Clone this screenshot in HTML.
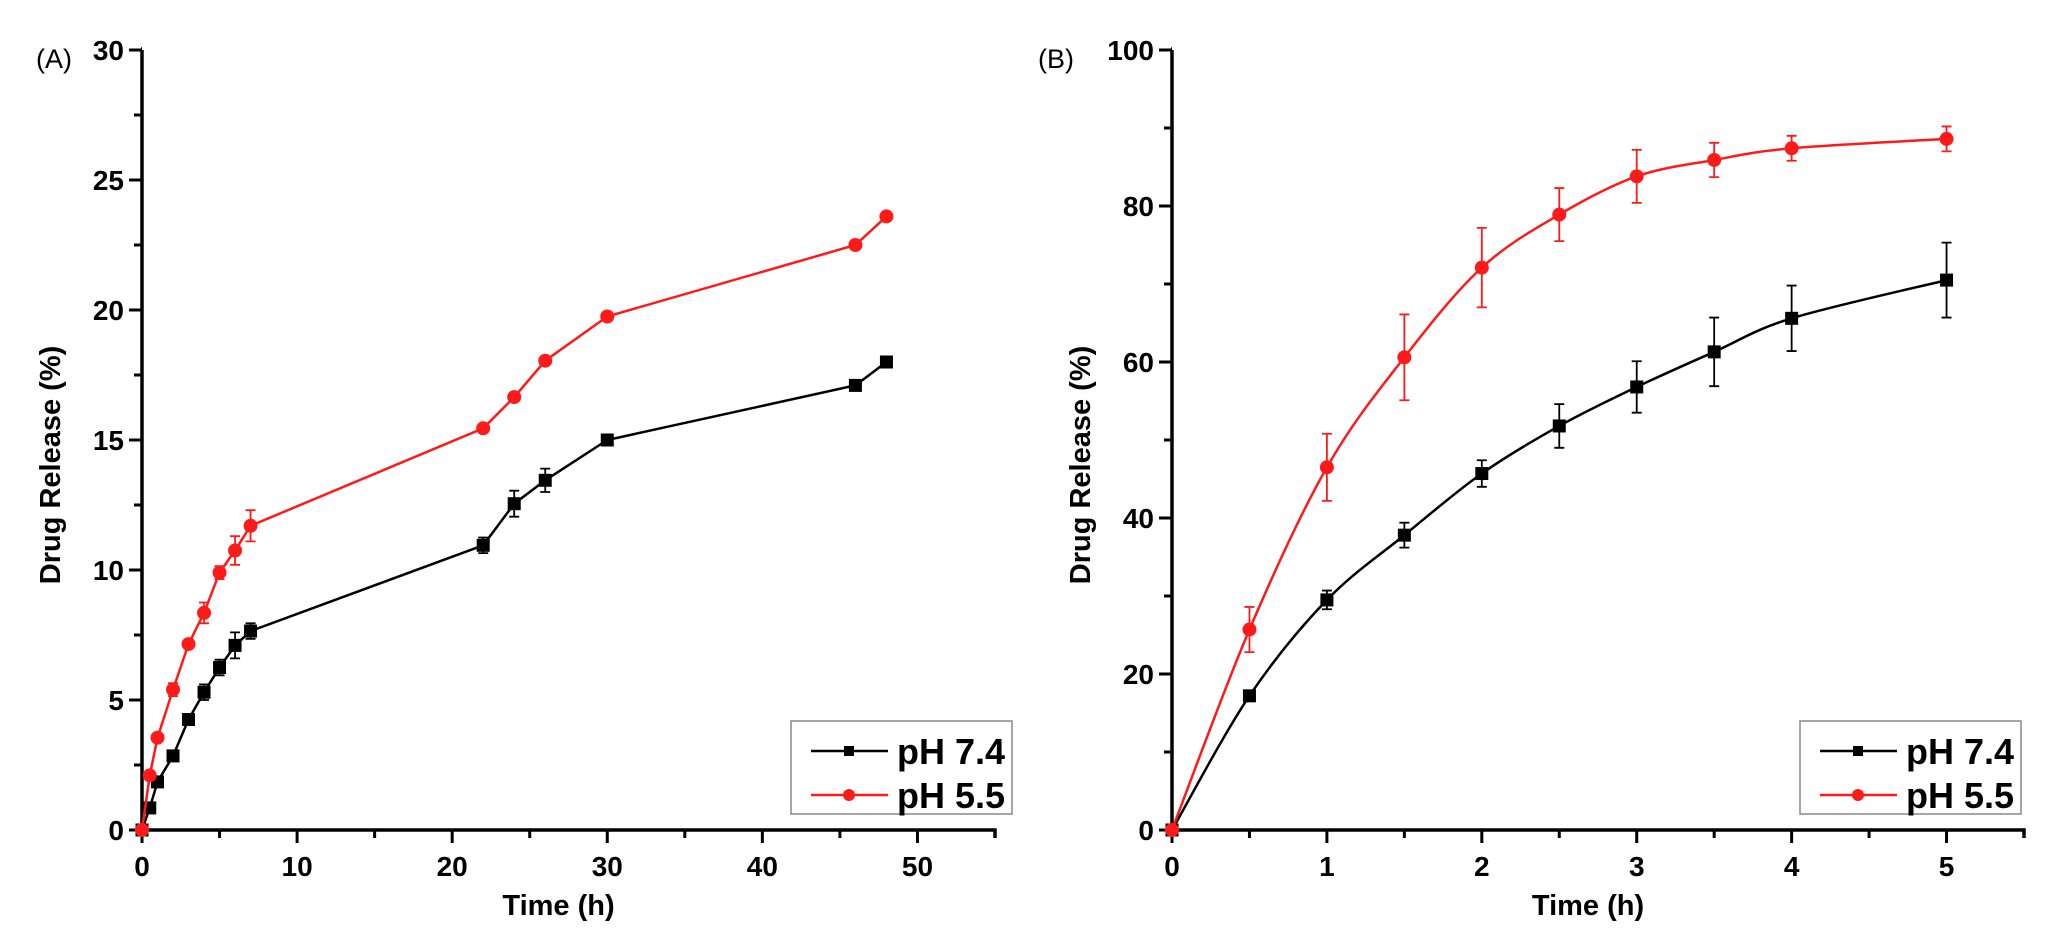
<!DOCTYPE html>
<html><head><meta charset="utf-8"><style>
html,body{margin:0;padding:0;background:#fff;}
svg{display:block;font-family:"Liberation Sans",Arial,sans-serif;}
</style></head><body>
<svg id="fig" width="2055" height="942" viewBox="0 0 2055 942"></svg>
<script>
// Panel A data
const timesA = [0,0.5,1,2,3,4,5,6,7,22,24,26,30,46,48];
const ph74A = [0,0.85,1.85,2.85,4.25,5.3,6.25,7.1,7.65,10.95,12.55,13.45,15.0,17.1,18.0];
const ph74AErr = [0,0.1,0.15,0.15,0.15,0.3,0.3,0.5,0.3,0.3,0.5,0.45,0.2,0.2,0.1];
const ph55A = [0,2.1,3.55,5.4,7.15,8.35,9.9,10.75,11.7,15.45,16.65,18.05,19.75,22.5,23.6];
const ph55AErr = [0,0.1,0.1,0.25,0.15,0.4,0.25,0.55,0.6,0.1,0.1,0.1,0.1,0.1,0.1];
const xTicksA = [0,10,20,30,40,50];
const yTicksA = [0,5,10,15,20,25,30];
// Panel B data
const timesB = [0,0.5,1,1.5,2,2.5,3,3.5,4,5];
const ph74B = [0,17.2,29.5,37.8,45.7,51.8,56.8,61.3,65.6,70.5];
const ph74BErr = [0,0.5,1.2,1.6,1.7,2.8,3.3,4.4,4.2,4.8];
const ph55B = [0,25.7,46.5,60.6,72.1,78.9,83.8,85.9,87.4,88.6];
const ph55BErr = [0,2.9,4.3,5.5,5.1,3.4,3.4,2.2,1.6,1.6];
const xTicksB = [0,1,2,3,4,5];
const yTicksB = [0,20,40,60,80,100];

const NS='http://www.w3.org/2000/svg';
const svg=document.getElementById('fig');
function el(tag,attrs,parent,text){const e=document.createElementNS(NS,tag);for(const k in attrs)e.setAttribute(k,attrs[k]);if(text!==undefined)e.textContent=text;(parent||svg).appendChild(e);return e;}

function panel(cfg){
  const g=el('g',{});
  
  
  const sx=v=>cfg.x0+(v-cfg.xmin)/(cfg.xmax-cfg.xmin)*(cfg.x1-cfg.x0);
  const sy=v=>cfg.y0-(v-cfg.ymin)/(cfg.ymax-cfg.ymin)*(cfg.y0-cfg.y1);
  const ax=el('path',{d:`M${cfg.x0},${cfg.y1-1}H${cfg.x0-1}M${cfg.x0},${cfg.y1}V${cfg.y0}H${cfg.x1}V${cfg.y0+8}`,stroke:'#000','stroke-width':3.5,fill:'none'},g);
  
  
  const xt=cfg.xticks;
  for(let i=0;i<xt.length;i++){
    const x=sx(xt[i]);
    el('line',{x1:x,x2:x,y1:cfg.y0,y2:cfg.y0+13,stroke:'#000','stroke-width':3},g);
    const t=el('text',{x:x,y:cfg.y0+46,'text-anchor':'middle','font-size':28,'font-weight':'bold'},g,String(xt[i]));
    
    
    if(i<xt.length-1){const xm=sx((xt[i]+xt[i+1])/2);el('line',{x1:xm,x2:xm,y1:cfg.y0,y2:cfg.y0+8,stroke:'#000','stroke-width':3},g);}
  }
  const xl=sx(xt[xt.length-1]+(xt[1]-xt[0])/2);
  if(xl<=cfg.x1+1) el('line',{x1:xl,x2:xl,y1:cfg.y0,y2:cfg.y0+8,stroke:'#000','stroke-width':3},g);
  const yt=cfg.yticks;
  for(let i=0;i<yt.length;i++){
    const y=sy(yt[i]);
    el('line',{x1:cfg.x0-13,x2:cfg.x0,y1:y,y2:y,stroke:'#000','stroke-width':3},g);
    const t=el('text',{x:cfg.x0-18,y:y+10,'text-anchor':'end','font-size':28,'font-weight':'bold'},g,String(yt[i]));
    
    
    if(i<yt.length-1){const ym=sy((yt[i]+yt[i+1])/2);el('line',{x1:cfg.x0-8,x2:cfg.x0,y1:ym,y2:ym,stroke:'#000','stroke-width':3},g);}
  }
  const xtitle=el('text',{x:(cfg.x0+cfg.x1)/2-10,y:915,'text-anchor':'middle','font-size':29,'font-weight':'bold'},g,'Time (h)');
  
  
  const ytitle=el('text',{x:0,y:0,'text-anchor':'middle','font-size':29,'font-weight':'bold',transform:`translate(${cfg.x0-82},465) rotate(-90)`},g,'Drug Release (%)');
  
  
  const lab=el('text',{x:cfg.labelX,y:68,'font-size':27},g,cfg.label);
  
  
  cfg.series.forEach(s=>{
    const sg=el('g',{},g);
    
    
    const P=s.xs.map((v,i)=>[sx(v),sy(s.ys[i])]);
    let d='M'+P[0][0]+','+P[0][1];
    for(let i=0;i<P.length-1;i++){
      if(cfg.smooth){
        const p0=P[Math.max(0,i-1)],p1=P[i],p2=P[i+1],p3=P[Math.min(P.length-1,i+2)];
        const c1=[p1[0]+(p2[0]-p0[0])/6,p1[1]+(p2[1]-p0[1])/6];
        const c2=[p2[0]-(p3[0]-p1[0])/6,p2[1]-(p3[1]-p1[1])/6];
        d+=`C${c1[0]},${c1[1]} ${c2[0]},${c2[1]} ${p2[0]},${p2[1]}`;
      } else d+='L'+P[i+1][0]+','+P[i+1][1];
    }
    el('path',{d:d,stroke:s.color,'stroke-width':2.5,fill:'none'},sg);
    s.xs.forEach((v,i)=>{
      const x=sx(v),y=sy(s.ys[i]),e=s.err[i];
      if(e>0){
        const ya=sy(s.ys[i]+e),yb=sy(s.ys[i]-e);
        const eb=el('path',{d:`M${x},${ya}V${yb}M${x-5},${ya}H${x+5}M${x-5},${yb}H${x+5}`,stroke:s.color,'stroke-width':1.8,fill:'none'},sg);
        
        
      }
      let m;
      if(s.marker==='square') m=el('rect',{x:x-6.5,y:y-6.5,width:13,height:13,fill:s.color},sg);
      else m=el('circle',{cx:x,cy:y,r:7,fill:s.color},sg);
      
      
    });
  });
  const lg=el('g',{},g);
  
  
  const L=cfg.legend;
  el('rect',{x:L.x,y:L.y,width:221,height:93,fill:'#fff',stroke:'#888','stroke-width':1.5},lg);
  cfg.series.forEach((s,i)=>{
    const yy=L.y+30+i*44;
    const en=el('g',{},lg);
    
    
    el('line',{x1:L.x+20,x2:L.x+97,y1:yy,y2:yy,stroke:s.color,'stroke-width':2.5},en);
    if(s.marker==='square') el('rect',{x:L.x+53,y:yy-5,width:10,height:10,fill:s.color},en);
    else el('circle',{cx:L.x+58,cy:yy,r:6,fill:s.color},en);
    el('text',{x:L.x+106,y:yy+13,'font-size':36,'font-weight':600},en,s.label);
  });
}

panel({name:'panel-a',label:'(A)',labelX:36,x0:142,x1:995,xmin:0,xmax:55,y0:830,y1:50,ymin:0,ymax:30,
  xticks:xTicksA,yticks:yTicksA,legend:{x:791,y:721},smooth:false,
  series:[
    {name:'series-ph-7-4',label:'pH 7.4',color:'#000',marker:'square',xs:timesA,ys:ph74A,err:ph74AErr},
    {name:'series-ph-5-5',label:'pH 5.5',color:'#ff1a1a',marker:'circle',xs:timesA,ys:ph55A,err:ph55AErr}]});
panel({name:'panel-b',label:'(B)',labelX:1038,x0:1172,x1:2024,xmin:0,xmax:5.5,y0:830,y1:50,ymin:0,ymax:100,
  xticks:xTicksB,yticks:yTicksB,legend:{x:1800,y:721},smooth:true,
  series:[
    {name:'series-ph-7-4',label:'pH 7.4',color:'#000',marker:'square',xs:timesB,ys:ph74B,err:ph74BErr},
    {name:'series-ph-5-5',label:'pH 5.5',color:'#ff1a1a',marker:'circle',xs:timesB,ys:ph55B,err:ph55BErr}]});
</script>
</body></html>
